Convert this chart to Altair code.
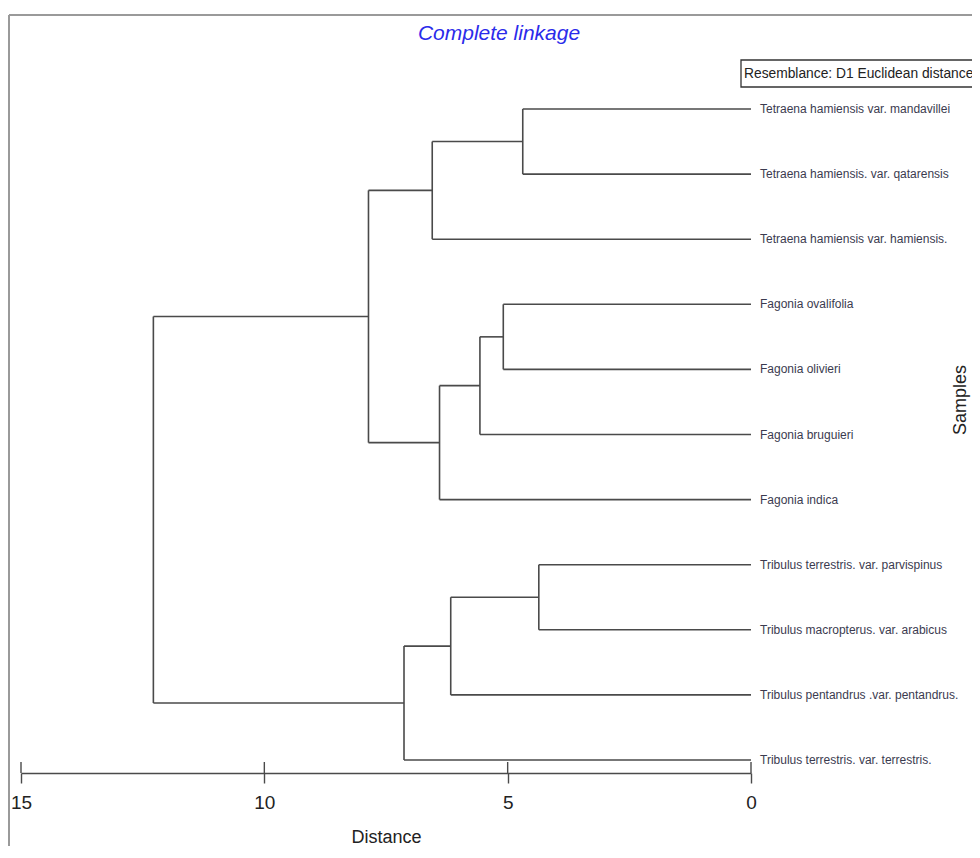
import altair as alt
import pandas as pd

# ---- data ----
leaves = [
    "Tetraena hamiensis var. mandavillei",
    "Tetraena hamiensis. var. qatarensis",
    "Tetraena hamiensis var. hamiensis.",
    "Fagonia ovalifolia",
    "Fagonia olivieri",
    "Fagonia bruguieri",
    "Fagonia indica",
    "Tribulus terrestris. var. parvispinus",
    "Tribulus macropterus. var. arabicus",
    "Tribulus pentandrus .var. pentandrus.",
    "Tribulus terrestris. var. terrestris.",
]
# merges: node ids 0..10 are leaves, each merge creates node 11, 12, ...
merge_a = [0, 11, 3, 13, 14, 12, 7, 17, 18, 16]
merge_b = [1, 2, 4, 5, 6, 15, 8, 9, 10, 19]
merge_dist = [4.69, 6.55, 5.09, 5.57, 6.40, 7.86, 4.36, 6.17, 7.13, 12.28]
tick_values = [15, 10, 5, 0]

title_text = "Complete linkage"
resemblance_text = "Resemblance: D1 Euclidean distance"
axis_title = "Distance"
side_title = "Samples"

# ---- build dendrogram segments ----
heights = [0.0] * len(leaves)
pos = [float(i) for i in range(len(leaves))]
segs = []
for a, b, h in zip(merge_a, merge_b, merge_dist):
    ya, yb = pos[a], pos[b]
    segs.append({"x": h, "x2": h, "y": ya, "y2": yb})
    segs.append({"x": heights[a], "x2": h, "y": ya, "y2": ya})
    segs.append({"x": heights[b], "x2": h, "y": yb, "y2": yb})
    heights.append(h)
    pos.append((ya + yb) / 2)
seg_df = pd.DataFrame(segs)
leaf_df = pd.DataFrame({"name": leaves, "d": [0.0] * len(leaves), "i": list(range(len(leaves)))})
tick_df = pd.DataFrame({"t": tick_values})

FONT = "Liberation Sans, Arial, sans-serif"
LINE = "#4a4a4a"

W, H = 730, 651
xscale = alt.Scale(domain=[0, 15], reverse=True, nice=False, zero=False)
yscale = alt.Scale(domain=[0, 10], reverse=True, nice=False, zero=False)

tree = alt.Chart(seg_df).mark_rule(color=LINE, strokeWidth=1.6).encode(
    x=alt.X("x:Q", scale=xscale, axis=alt.Axis(
        values=tick_values, format="d", offset=13, tickSize=10, tickWidth=1.4,
        tickColor=LINE, domainColor=LINE, domainWidth=1.6, grid=False,
        labelFont=FONT, labelFontSize=19, labelColor="#222", labelPadding=10,
        labelFlush=False, title=axis_title, titleFont=FONT, titleFontSize=18,
        titleFontWeight="normal", titleColor="#222", titlePadding=16)),
    x2="x2:Q",
    y=alt.Y("y:Q", scale=yscale, axis=None),
    y2="y2:Q",
)

up_ticks = alt.Chart(tick_df).mark_rule(color=LINE, strokeWidth=1.4).encode(
    x=alt.X("t:Q", scale=xscale), y=alt.value(H + 2), y2=alt.value(H + 13)
)

labels = alt.Chart(leaf_df).mark_text(
    align="left", baseline="middle", dx=9, font=FONT, fontSize=12, color="#3b3b4f"
).encode(x=alt.X("d:Q", scale=xscale), y=alt.Y("i:Q", scale=yscale), text="name:N")

one = pd.DataFrame({"k": [0]})
frame_top = alt.Chart(one).mark_rule(color="#9a9a9a", strokeWidth=2).encode(
    x=alt.value(-12), x2=alt.value(990), y=alt.value(-94), y2=alt.value(-94))
frame_left = alt.Chart(one).mark_rule(color="#9a9a9a", strokeWidth=2).encode(
    x=alt.value(-12), x2=alt.value(-12), y=alt.value(-94), y2=alt.value(800))

title = alt.Chart(pd.DataFrame({"t": [title_text]})).mark_text(
    font=FONT, fontSize=21, fontStyle="italic", color="#2b2bea",
    align="center", baseline="alphabetic"
).encode(text="t:N", x=alt.value(478), y=alt.value(-69))

box = alt.Chart(one).mark_rect(fill="white", stroke="#333", strokeWidth=1.3).encode(
    x=alt.value(720), x2=alt.value(1000), y=alt.value(-49), y2=alt.value(-22))
box_text = alt.Chart(pd.DataFrame({"t": [resemblance_text]})).mark_text(
    font=FONT, fontSize=13.8, color="#222", align="left", baseline="middle"
).encode(text="t:N", x=alt.value(723), y=alt.value(-35))

samples = alt.Chart(pd.DataFrame({"t": [side_title]})).mark_text(
    font=FONT, fontSize=18, color="#222", align="center", baseline="middle", angle=270
).encode(text="t:N", x=alt.value(940), y=alt.value(291))

chart = alt.layer(
    frame_top, frame_left, tree, up_ticks, labels, title, box, box_text, samples
).properties(
    width=W, height=H,
    autosize=alt.AutoSizeParams(type="none"),
    padding={"left": 13, "top": 101, "right": 221, "bottom": 86},
    background="white",
).configure_view(stroke=None)

chart.save("out.html", embed_options={"renderer": "svg", "actions": False})
